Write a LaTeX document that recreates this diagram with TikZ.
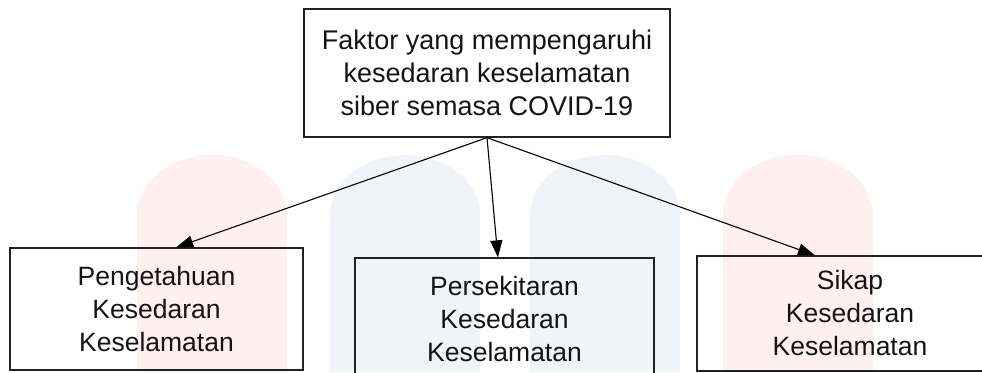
\documentclass[tikz,border=0pt]{standalone}
\usepackage{fontspec}
\setmainfont{Liberation Sans}
\usetikzlibrary{arrows.meta,calc}
\definecolor{wmred}{HTML}{FEF0F0}
\definecolor{wmblue}{HTML}{F0F4F8}
\definecolor{edge}{HTML}{222222}
\begin{document}
\begin{tikzpicture}[x=1pt,y=-1pt,
  box/.style={draw=edge,line width=1.3pt,inner sep=0pt,align=center,text=black!92},
  topfont/.style={font=\fontsize{27}{33}\selectfont},
  botfont/.style={font=\fontsize{26.5}{33}\selectfont},
  conn/.style={draw=black,line width=1.1pt,-{Triangle[length=17pt,width=12pt]}}]
\useasboundingbox (0,0) rectangle (982,372);
% watermark arches
\fill[wmred]  (137,372) -- (137,215) arc[start angle=180,end angle=360,x radius=75,y radius=60] -- (287,372) -- cycle;
\fill[wmblue] (330,372) -- (330,215) arc[start angle=180,end angle=360,x radius=75,y radius=60] -- (480,372) -- cycle;
\fill[wmblue] (530,372) -- (530,215) arc[start angle=180,end angle=360,x radius=75,y radius=60] -- (680,372) -- cycle;
\fill[wmred]  (723,372) -- (723,215) arc[start angle=180,end angle=360,x radius=75,y radius=60] -- (873,372) -- cycle;
% boxes
\node[box,topfont,minimum width=366pt,minimum height=128pt] (top) at (487,73)
  {Faktor yang mempengaruhi\\kesedaran keselamatan\\siber semasa COVID-19};
\node[box,botfont,minimum width=293pt,minimum height=122pt] (l) at (156.5,309)
  {Pengetahuan\\Kesedaran\\Keselamatan};
\node[box,botfont,minimum width=299pt,minimum height=122pt] (m) at (504.5,319)
  {Persekitaran\\Kesedaran\\Keselamatan};
\node[box,botfont,minimum width=306pt,minimum height=115pt] (r) at (850,313.5)
  {Sikap\\Kesedaran\\Keselamatan};
% connectors
\draw[conn] (top.south) -- ($(l.north west)!0.567!(l.north east)$);
\draw[conn] (top.south) -- ($(m.north west)!0.478!(m.north east)$);
\draw[conn] (top.south) -- ($(r.north west)!0.386!(r.north east)$);
\end{tikzpicture}
\end{document}
